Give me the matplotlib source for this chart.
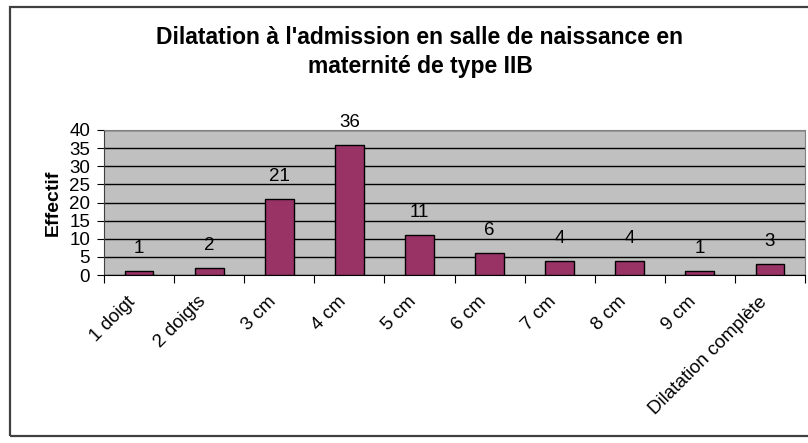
import numpy as np
import matplotlib
matplotlib.use("Agg")
from matplotlib import pyplot as plt
from matplotlib.patches import Rectangle
from matplotlib.transforms import ScaledTranslation

categories = ["1 doigt", "2 doigts", "3 cm", "4 cm", "5 cm", "6 cm",
              "7 cm", "8 cm", "9 cm", "Dilatation complète"]
effectif = [1, 2, 21, 36, 11, 6, 4, 4, 1, 3]
yticks = [0, 5, 10, 15, 20, 25, 30, 35, 40]

title = "Dilatation à l'admission en salle de naissance en\nmaternité de type IIB"

plt.rcParams['font.family'] = ['Liberation Sans', 'DejaVu Sans']

W, H = 808, 443
fig = plt.figure(figsize=(W/100, H/100), dpi=100)

# outer chart frame (right side cut off in the original)
frame = Rectangle((10/W, 1 - 436/H), 840/W, 429/H, transform=fig.transFigure,
                  fill=False, edgecolor="#404040", linewidth=1.6, clip_on=False)
fig.patches.append(frame)

ax = fig.add_axes([104/W, 1 - 275/H, 701/W, 145/H])
ax.set_facecolor("#C0C0C0")

x = np.arange(len(categories))
ax.bar(x, effectif, width=0.41, color="#993366", edgecolor="black",
       linewidth=1.0, zorder=3)

for xi, v in zip(x, effectif):
    ax.annotate(str(v), (xi, v), xytext=(0, 10), textcoords="offset points",
                ha="center", va="bottom", fontsize=13.5)

ax.set_xlim(-0.5, len(categories) - 0.5)
ax.set_ylim(0, 40)
ax.set_yticks(yticks)
ax.set_yticklabels([str(t) for t in yticks], fontsize=13.5)
ax.yaxis.grid(True, color="black", linewidth=1.0, zorder=0)
ax.set_axisbelow(True)

# category boundaries as tick marks
ax.set_xticks(np.arange(len(categories) + 1) - 0.5, minor=False)
ax.set_xticklabels([])
ax.set_xticks(x, minor=True)
ax.set_xticklabels(categories, minor=True, rotation=45, ha="right",
                   va="top", rotation_mode="anchor", fontsize=13.5)
ax.tick_params(axis="x", which="major", length=6, direction="out", color="black")
ax.tick_params(axis="x", which="minor", length=0, pad=13)
ax.tick_params(axis="y", length=5, direction="out", pad=5)
shift = ScaledTranslation(-12/100, 0, fig.dpi_scale_trans)
for lab in ax.get_xticklabels(minor=True):
    lab.set_transform(lab.get_transform() + shift)

for s in ["top", "right"]:
    ax.spines[s].set_color("#808080")
ax.spines["left"].set_color("#404040")
ax.spines["bottom"].set_color("black")

ax.set_ylabel("Effectif", fontsize=14, fontweight="bold")
ax.yaxis.set_label_coords((62 - 104) / 701, 0.5)

fig.text(420/W, 1 - 52/H, title, ha="center", va="center", fontsize=16.5,
         fontweight="bold", linespacing=1.3)

fig.savefig("out.png", dpi=100)
